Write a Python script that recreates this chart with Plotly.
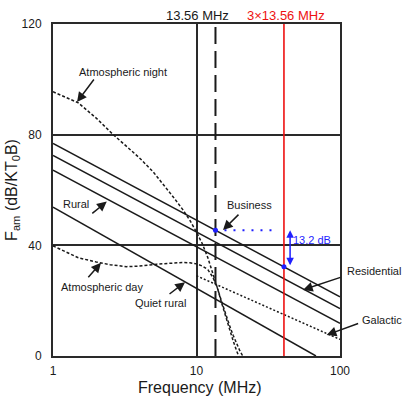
import math
import plotly.graph_objects as go

# ---------------- data ----------------
freq_ends = [1, 100]
business_db = [76.8, 21.4]
residential_db = [72.5, 17.1]
rural_db = [67.2, 11.8]
quiet_rural_f = [1, 68]
quiet_rural_db = [53.8, 0.0]
galactic_f = [10, 100]
galactic_db = [29.0, 6.0]

night_f = [1, 1.5, 2, 2.63, 3.3, 4.04, 5, 6, 7, 8, 9, 10, 11, 12, 13, 14, 15, 16, 17, 18, 19, 20]
night_db = [95.5, 91.5, 86.0, 80.0, 75.5, 71.4, 66.5, 61.5, 57.0, 53.0, 49.0, 44.8, 40.5, 35.5,
            30.0, 24.5, 19.0, 14.0, 9.5, 5.5, 2.0, -1.0]

day_f = [1, 1.5, 2, 2.5, 3.26, 4, 5.28, 7, 8, 9, 10, 11, 12, 13, 14, 15, 16, 17, 18, 19, 20, 21, 22]
day_db = [39.8, 35.5, 34.0, 33.0, 32.3, 32.5, 33.2, 33.7, 33.8, 33.7, 33.3, 32.5, 31.2, 28.5,
          24.5, 19.5, 14.8, 11.0, 7.5, 4.5, 2.0, 0.0, -1.0]

f_carrier = 13.56
f_third = 3 * 13.56
business_at_carrier = 45.44
business_at_third = 32.22
blue_dots_end_f = 36.4
diff_arrow_f = 44.9
diff_label = "13.2 dB"

x_ticks = [1, 10, 100]
y_ticks = [0, 40, 80, 120]
y_range = [0, 120]

# ---------------- styling ----------------
FONT = "Liberation Sans, Arial, sans-serif"
INK = "#1a1a1a"
BLUE = "#1f1fff"
RED = "#ee1111"

fig = go.Figure()

def line(x, y, dash="solid", width=1.5, color=INK, shape="linear"):
    fig.add_trace(go.Scatter(x=x, y=y, mode="lines", line=dict(color=color, width=width, dash=dash, shape=shape),
                             hoverinfo="skip", showlegend=False))

# man-made noise lines
line(freq_ends, business_db)
line(freq_ends, residential_db)
line(freq_ends, rural_db)
line(quiet_rural_f, quiet_rural_db)
# galactic
line(galactic_f, galactic_db, dash="2px,2px", width=1.5)
# atmospheric
line(night_f, night_db, dash="3px,2px", width=1.5)
line(day_f, day_db, dash="3px,2px", width=1.5)

# vertical markers
line([f_carrier, f_carrier], y_range, dash="17px,7px", width=2)
line([f_third, f_third], y_range, color=RED, width=1.6)

# blue dotted reference
fig.add_trace(go.Scatter(x=[f_carrier, blue_dots_end_f], y=[business_at_carrier, business_at_carrier],
                         mode="lines", line=dict(color=BLUE, width=2, dash="2px,7px"),
                         hoverinfo="skip", showlegend=False))
fig.add_trace(go.Scatter(x=[f_carrier, f_third], y=[business_at_carrier, business_at_third],
                         mode="markers", marker=dict(color=BLUE, size=5),
                         hoverinfo="skip", showlegend=False))

annotations = []

def label(text, px, py, color=INK, size=11):
    annotations.append(dict(text=text, xref="paper", yref="paper", x=px, y=py,
                            xanchor="center", yanchor="middle", showarrow=False,
                            font=dict(family=FONT, size=size, color=color)))

def arrow(f, db, ax, ay):
    annotations.append(dict(text="", x=math.log10(f), y=db, xref="x", yref="y",
                            ax=ax, ay=ay, showarrow=True, arrowhead=2, arrowsize=1.3,
                            arrowwidth=1.5, arrowcolor=INK, standoff=0))

label("Atmospheric night", 0.244, 0.855)
arrow(1.47, 91.8, 18, -24)
label("Rural", 0.080, 0.458)
arrow(2.37, 55.8, -16, 13)
label("Atmospheric day", 0.169, 0.208)
arrow(2.16, 33.7, -14, 16)
label("Quiet rural", 0.376, 0.160)
arrow(8.32, 26.7, -17, 13)
label("Business", 0.685, 0.455)
arrow(15.3, 45.5, 17, -17)
label("Residential", 1.118, 0.256)
arrow(55.2, 23.9, 39, -13)
label("Galactic", 1.146, 0.108)
arrow(80.7, 7.6, 33, -12)

label(diff_label, 0.902, 0.349, color=BLUE)
label("13.56 MHz", 0.502, 1.027, size=13)
label("3\u00d713.56 MHz", 0.812, 1.027, color=RED, size=13)
label("Frequency (MHz)", 0.512, -0.096, size=16)

annotations.append(dict(text="", x=math.log10(diff_arrow_f), y=business_at_carrier,
                        ax=math.log10(diff_arrow_f), ay=business_at_third,
                        xref="x", yref="y", axref="x", ayref="y",
                        showarrow=True, arrowhead=2, arrowside="end+start", arrowsize=1,
                        arrowwidth=1.5, arrowcolor=BLUE, standoff=0, startstandoff=0))

fig.update_layout(
    width=404, height=397,
    margin=dict(l=53, r=64, t=24, b=41),
    paper_bgcolor="white", plot_bgcolor="white",
    font=dict(family=FONT, color=INK),
    annotations=annotations,
    xaxis=dict(type="log", range=[0, 2], tickvals=x_ticks, ticktext=[str(v) for v in x_ticks],
               showgrid=True, gridcolor="#2a2a2a", gridwidth=1.5,
               showline=True, linecolor="#2a2a2a", linewidth=2, mirror=True,
               ticks="", tickfont=dict(size=12, family=FONT, color=INK), zeroline=False,
               ticklabelstandoff=3, automargin=False),
    yaxis=dict(range=y_range, tickvals=y_ticks, showgrid=True, gridcolor="#2a2a2a", gridwidth=1.5,
               showline=True, linecolor="#2a2a2a", linewidth=2, mirror=True,
               ticks="", tickfont=dict(size=12, family=FONT, color=INK), zeroline=False,
               ticklabelstandoff=7, automargin=False,
               title=dict(text="F<sub>am</sub> (dB/KT<sub>0</sub>B)", font=dict(size=16, family=FONT, color=INK),
                          standoff=0)),
)

fig.write_html("out.html")
